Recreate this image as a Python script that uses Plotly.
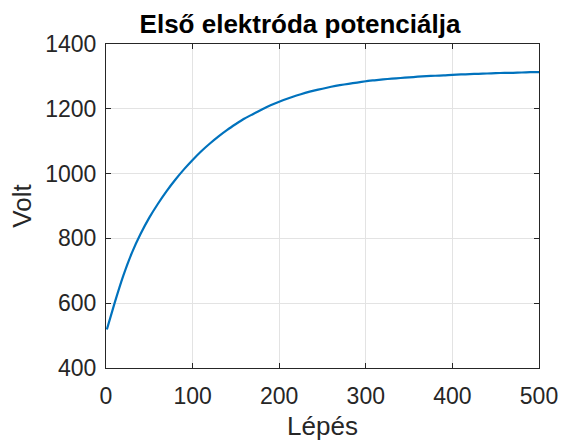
import plotly.graph_objects as go

steps = [1, 10, 20, 30, 40, 50, 60, 70, 80, 90, 100, 110, 120, 130, 140, 150, 160, 170, 180, 190,
         200, 210, 220, 230, 240, 250, 260, 270, 280, 290, 300, 310, 320, 330, 340, 350, 360, 370,
         380, 390, 400, 410, 420, 430, 440, 450, 460, 470, 480, 490, 500]
volts = [519, 601, 685, 756, 814, 864, 907, 946, 981, 1013, 1042, 1069, 1093, 1115, 1135, 1153,
         1170, 1184, 1198, 1211, 1222, 1232, 1241, 1249, 1256, 1262, 1268, 1273, 1277, 1281, 1285,
         1288, 1291, 1293, 1295, 1297, 1299, 1301, 1302, 1303, 1305, 1306, 1307, 1308, 1309, 1310,
         1311, 1311, 1312, 1313, 1313]

title_text = "Első elektróda potenciálja"
x_label = "Lépés"
y_label = "Volt"
x_ticks = [0, 100, 200, 300, 400, 500]
y_ticks = [400, 600, 800, 1000, 1200, 1400]

FONT = "Liberation Sans, Arial, Helvetica, sans-serif"
AX = "#262626"

fig = go.Figure()
fig.add_trace(go.Scatter(x=steps, y=volts, mode="lines",
                         line=dict(color="#0072BD", width=2.2, shape="spline", smoothing=0.5)))

axis_common = dict(
    showline=True, linecolor=AX, linewidth=1, mirror="ticks",
    ticks="inside", ticklen=5, tickcolor=AX, tickwidth=1,
    showgrid=True, gridcolor="#e3e3e3", gridwidth=1, zeroline=False,
    tickfont=dict(family=FONT, size=23, color=AX), automargin=False,
)

fig.update_layout(
    width=561, height=445,
    margin=dict(l=106, r=22, t=44, b=77),
    paper_bgcolor="white", plot_bgcolor="white",
    showlegend=False,
    title=dict(text="<b>" + title_text + "</b>", xref="paper", x=0.448, xanchor="center",
               yref="container", y=0.946, yanchor="middle",
               font=dict(family=FONT, size=26, color="black"), automargin=False),
    xaxis=dict(range=[0, 500], tickvals=x_ticks, ticktext=[str(v) for v in x_ticks],
               ticklabelstandoff=7,
               title=dict(text=x_label, font=dict(family=FONT, size=26, color=AX), standoff=9),
               **axis_common),
    yaxis=dict(range=[400, 1400], tickvals=y_ticks, ticktext=[str(v) for v in y_ticks],
               ticklabelstandoff=4,
               title=dict(text=y_label, font=dict(family=FONT, size=26, color=AX), standoff=6),
               **axis_common),
)

fig.write_html("out.html")
